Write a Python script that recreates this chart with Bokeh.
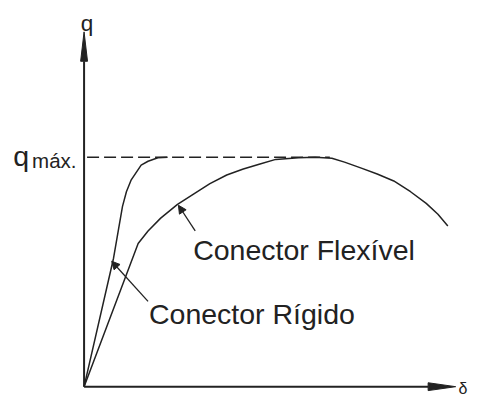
from bokeh.plotting import figure
from bokeh.models import Range1d, Arrow, NormalHead
from bokeh.core.properties import value
from bokeh.embed import file_html
from bokeh.resources import INLINE

# ---- data (q normalised by q_max, delta in the same drawing scale) ----
rigid_delta = [0, 0.128, 0.150, 0.167, 0.184, 0.205, 0.248, 0.278, 0.321, 0.363]
rigid_q = [0, 0.560, 0.688, 0.786, 0.850, 0.902, 0.966, 0.983, 0.998, 1.0]

flex_delta = [0, 0.235, 0.278, 0.333, 0.406, 0.479, 0.547, 0.620, 0.692, 0.761,
              0.833, 0.932, 1.004, 1.077, 1.132, 1.205, 1.274, 1.346, 1.419,
              1.487, 1.538, 1.581]
flex_q = [0, 0.624, 0.679, 0.735, 0.795, 0.842, 0.885, 0.923, 0.949, 0.970,
          0.991, 0.998, 1.0, 0.996, 0.979, 0.953, 0.927, 0.897, 0.850,
          0.799, 0.752, 0.701]

q_max = 1.0
q_max_line_delta = [0.013, 1.068]

axis_delta_max = 1.615
axis_q_max = 1.547

label_flex = "Conector Flexível"
label_rigid = "Conector Rígido"
label_flex_pos = (0.474, 0.594)
label_rigid_pos = (0.282, 0.316)
leader_flex = (0.483, 0.679, 0.410, 0.791)
leader_rigid = (0.278, 0.372, 0.120, 0.547)

INK = "#222222"
FONT = value("Liberation Sans")

p = figure(width=470, height=395, output_backend="svg", toolbar_location=None,
           x_axis_type=None, y_axis_type=None, min_border=0,
           x_range=Range1d(-85 / 234, 393 / 234), y_range=Range1d(-9 / 234, 394 / 234))
p.grid.visible = False
p.outline_line_color = None
p.background_fill_color = "white"
p.border_fill_color = "white"

# axes with arrow heads
head_y_len, head_y_half = 30 / 234, 3.5 / 234
head_x_len, head_x_half = 28 / 234, 4 / 234
p.line([0, 0], [0, axis_q_max - head_y_len], line_color=INK, line_width=2)
p.line([0, axis_delta_max - head_x_len], [0, 0], line_color=INK, line_width=2)
p.patch([0, -head_y_half, head_y_half], [axis_q_max, axis_q_max - head_y_len, axis_q_max - head_y_len],
        fill_color=INK, line_color=INK, line_width=1)
p.patch([axis_delta_max, axis_delta_max - head_x_len, axis_delta_max - head_x_len], [0, head_x_half, -head_x_half],
        fill_color=INK, line_color=INK, line_width=1)

# q_max dashed line
p.line(q_max_line_delta, [q_max, q_max], line_color=INK, line_width=1.5, line_dash="12 5")

# curves
p.line(rigid_delta, rigid_q, line_color=INK, line_width=1.5)
p.line(flex_delta, flex_q, line_color=INK, line_width=1.5)

# leaders
for (xs, ys, xe, ye) in (leader_flex, leader_rigid):
    p.add_layout(Arrow(x_start=xs, y_start=ys, x_end=xe, y_end=ye, line_color=INK, line_width=1.3,
                       end=NormalHead(size=8, fill_color=INK, line_color=INK, line_width=1)))

# labels
def txt(x, y, s, size, align="left"):
    p.text(x=[x], y=[y], text=[s], text_font=FONT, text_font_size=f"{size}px",
           text_color=INK, text_align=align, text_baseline="alphabetic")

txt(label_flex_pos[0], label_flex_pos[1], label_flex, 28.5)
txt(label_rigid_pos[0], label_rigid_pos[1], label_rigid, 28.5)
txt(0.013, 1.584, "q", 22.5, "center")
txt(-0.308, 1.004, "q", 28.5)
txt(-0.226, 0.987, "máx.", 20.5)
txt(1.627, -0.008, "δ", 16)

open("out.html", "w").write(file_html(p, INLINE))
